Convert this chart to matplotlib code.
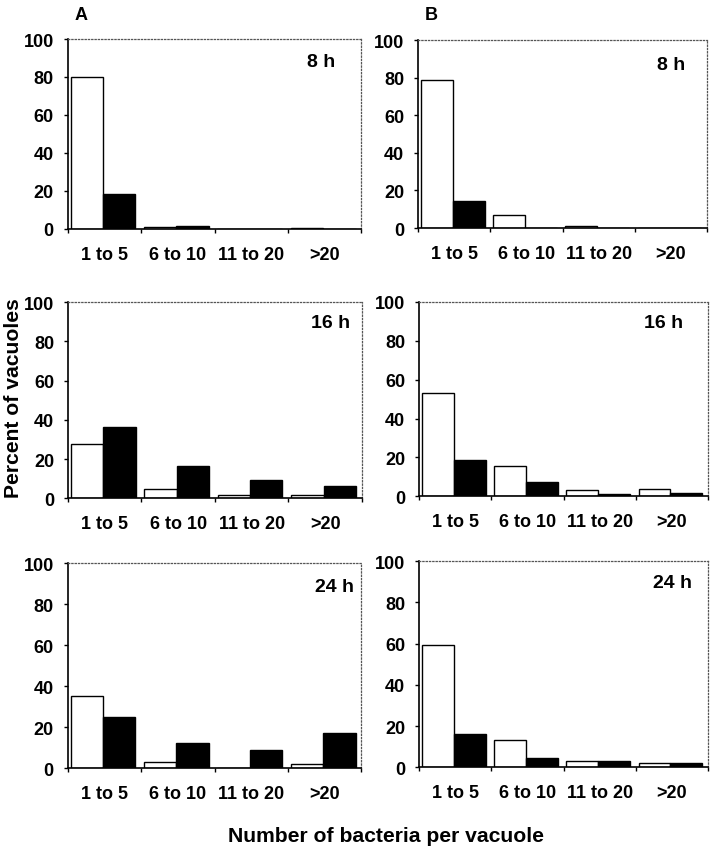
import matplotlib
matplotlib.use('Agg')
import matplotlib.pyplot as plt
import numpy as np

plt.rcParams['font.family'] = ['Liberation Sans', 'DejaVu Sans']
plt.rcParams['font.weight'] = 'bold'

categories = ['1 to 5', '6 to 10', '11 to 20', '>20']
times = ['8 h', '16 h', '24 h']

# open bars / filled bars, per time point, for panel A and panel B
a_open = [[80, 1.2, 0, 0.3], [27.5, 4.7, 1.8, 1.8], [35, 3, 0, 2]]
a_filled = [[18.3, 1.8, 0, 0], [36.3, 16.6, 9.4, 6.2], [24.8, 12.2, 9.1, 17.4]]
b_open = [[78.5, 6.9, 1.2, 0], [53, 15.4, 3.4, 3.5], [59.6, 13.2, 3.2, 2.1]]
b_filled = [[14.4, 0, 0, 0], [18.6, 7.4, 1.3, 1.9], [16.4, 4.3, 3.2, 2.1]]

fig = plt.figure(figsize=(7.2, 8.53), dpi=100)

# axes boxes [left, bottom, width, height], label spots in axes fraction
boxes_a = [[0.094, 0.7304, 0.408, 0.2227],
           [0.0945, 0.4147, 0.408, 0.2298],
           [0.094, 0.0981, 0.408, 0.2407]]
boxes_b = [[0.5806, 0.7315, 0.4014, 0.2204],
           [0.582, 0.417, 0.4014, 0.228],
           [0.582, 0.0993, 0.4014, 0.2415]]
spots_a = [(0.91, 0.88), (0.96, 0.895), (0.975, 0.885)]
spots_b = [(0.925, 0.87), (0.915, 0.895), (0.945, 0.895)]

x = np.arange(len(categories))
w = 0.44
c = 0.48

def panel(box, opn, fil, label, spot):
    ax = fig.add_axes(box)
    ax.bar(x + c - w / 2, opn, w, color='white', edgecolor='black', linewidth=1.0)
    ax.bar(x + c + w / 2, fil, w, color='black', edgecolor='black', linewidth=1.0)
    ax.set_xlim(0, 4)
    ax.set_ylim(0, 100)
    ax.set_yticks([0, 20, 40, 60, 80, 100])
    ax.tick_params(axis='y', direction='out', length=3, width=1, pad=7, labelsize=13)
    ax.set_xticks([0, 1, 2, 3, 4])
    ax.set_xticklabels([])
    ax.set_xticks(x + 0.5, minor=True)
    ax.set_xticklabels(categories, minor=True)
    ax.tick_params(axis='x', which='major', direction='out', length=3, width=1)
    ax.tick_params(axis='x', which='minor', length=0, pad=12, labelsize=13)
    for s in ['top', 'right']:
        ax.spines[s].set_linestyle(':')
        ax.spines[s].set_linewidth(0.9)
        ax.spines[s].set_color('#555555')
    for s in ['left', 'bottom']:
        ax.spines[s].set_linewidth(1.2)
    for t in ax.get_yticklabels() + ax.get_xticklabels(minor=True):
        t.set_fontweight('bold')
    ax.text(spot[0], spot[1], label, transform=ax.transAxes, ha='right',
            va='center', fontsize=14, fontweight='bold')
    return ax

for i in range(3):
    panel(boxes_a[i], a_open[i], a_filled[i], times[i], spots_a[i])
    panel(boxes_b[i], b_open[i], b_filled[i], times[i], spots_b[i])

fig.text(75 / 720, 1 - 15 / 853, 'A', ha='left', va='center', fontsize=13, fontweight='bold')
fig.text(425 / 720, 1 - 15 / 853, 'B', ha='left', va='center', fontsize=13, fontweight='bold')
fig.text(14 / 720, 1 - 398 / 853, 'Percent of vacuoles', rotation=90, ha='center',
         va='center', fontsize=15.2, fontweight='bold')
fig.text(386 / 720, 1 - 837 / 853, 'Number of bacteria per vacuole', ha='center',
         va='center', fontsize=15.2, fontweight='bold')

fig.savefig('out.png', dpi=100)
